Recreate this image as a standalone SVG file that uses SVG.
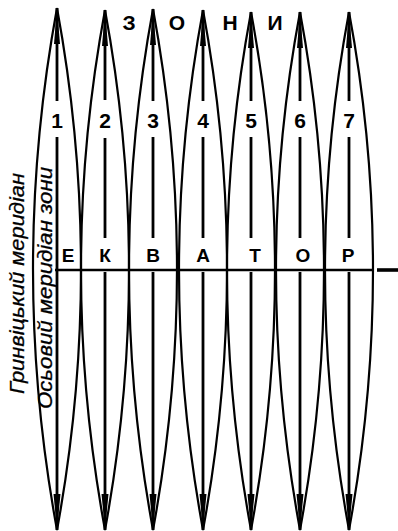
<svg xmlns="http://www.w3.org/2000/svg" width="398" height="531" viewBox="0 0 398 531">
<style>
.b{fill:none;stroke:#000;stroke-width:2.2}
.m{fill:none;stroke:#000;stroke-width:2.8}
.w{fill:#000}
.n{font-family:"Liberation Sans",Arial,sans-serif;font-weight:bold;font-size:21px;text-anchor:middle;fill:#000}
.e{font-family:"Liberation Sans",Arial,sans-serif;font-weight:bold;font-size:19px;text-anchor:middle;fill:#000}
.r{font-family:"Liberation Sans",Arial,sans-serif;font-style:italic;font-size:20px;fill:#000;stroke:#000;stroke-width:0.3}
</style>
<rect width="398" height="531" fill="#fff"/>
<g id="gore1"><path class="b" d="M57,8 Q9,269 57,530 Q105,269 57,8"/><path class="m" d="M57,8V101M57,137V530"/><polygon class="w" points="57,8 54,44 60,44"/><polygon class="w" points="57,530 53.5,494 60.5,494"/></g>
<g id="gore2"><path class="b" d="M105,10 Q57,269 105,530 Q153,269 105,10"/><path class="m" d="M105,10V100M105,138V238M105,272V530"/><polygon class="w" points="105,10 102,46 108,46"/><polygon class="w" points="105,530 101.5,494 108.5,494"/></g>
<g id="gore3"><path class="b" d="M153,9 Q105,269 153,530 Q201,269 153,9"/><path class="m" d="M153,9V101M153,137V238M153,272V530"/><polygon class="w" points="153,9 150,45 156,45"/><polygon class="w" points="153,530 149.5,494 156.5,494"/></g>
<g id="gore4"><path class="b" d="M203,10 Q155,269 203,530 Q251,269 203,10"/><path class="m" d="M203,10V101M203,137V238M203,272V530"/><polygon class="w" points="203,10 200,46 206,46"/><polygon class="w" points="203,530 199.5,494 206.5,494"/></g>
<g id="gore5"><path class="b" d="M251,12 Q203,269 251,530 Q299,269 251,12"/><path class="m" d="M251,12V101M251,137V238M251,272V530"/><polygon class="w" points="251,12 248,48 254,48"/><polygon class="w" points="251,530 247.5,494 254.5,494"/></g>
<g id="gore6"><path class="b" d="M300,12 Q252,269 300,530 Q348,269 300,12"/><path class="m" d="M300,12V101M300,137V238M300,272V530"/><polygon class="w" points="300,12 297,48 303,48"/><polygon class="w" points="300,530 296.5,494 303.5,494"/></g>
<g id="gore7"><path class="b" d="M349,12 Q301,269 349,530 Q397,269 349,12"/><path class="m" d="M349,12V101M349,137V238M349,272V530"/><polygon class="w" points="349,12 346,48 352,48"/><polygon class="w" points="349,530 345.5,494 352.5,494"/></g>
<g id="connectors">
<line x1="55" y1="270" x2="374" y2="270" stroke="#000" stroke-width="2.6"/>
<line x1="377" y1="270" x2="398" y2="270" stroke="#000" stroke-width="3.6"/>
</g>
<g id="numbers">
<text class="n" x="57" y="128">1</text>
<text class="n" x="105" y="128">2</text>
<text class="n" x="153" y="128">3</text>
<text class="n" x="203" y="128">4</text>
<text class="n" x="251" y="128">5</text>
<text class="n" x="300" y="128">6</text>
<text class="n" x="349" y="128">7</text>
</g>
<g id="zones">
<text class="n" x="129" y="30">З</text>
<text class="n" x="177" y="30">О</text>
<text class="n" x="230" y="30">Н</text>
<text class="n" x="275" y="30">И</text>
</g>
<g id="equator">
<text class="e" x="68" y="262">Е</text>
<text class="e" x="105" y="262">К</text>
<text class="e" x="153" y="262">В</text>
<text class="e" x="203" y="262">А</text>
<text class="e" x="255" y="262">Т</text>
<text class="e" x="303" y="262">О</text>
<text class="e" x="348" y="262">Р</text>
</g>
<g id="greenwich"><text class="r" x="24" y="394" transform="rotate(-90 24 394)" textLength="221" lengthAdjust="spacingAndGlyphs">Гринвіцький меридіан</text></g>
<g id="axial"><text class="r" x="52" y="409" transform="rotate(-90 52 409)" textLength="242" lengthAdjust="spacingAndGlyphs">Осьовий меридіан зони</text></g>
</svg>
